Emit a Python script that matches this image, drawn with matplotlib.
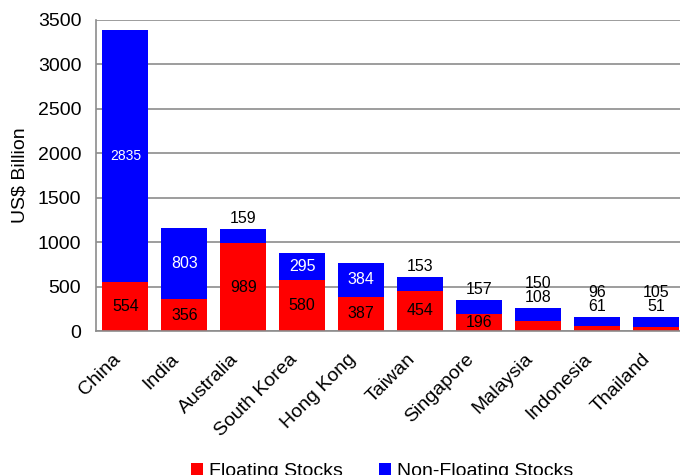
import matplotlib
matplotlib.use("Agg")
import matplotlib.pyplot as plt
import numpy as np

plt.rcParams['font.family'] = ['Liberation Sans', 'DejaVu Sans']

countries = ['China', 'India', 'Australia', 'South Korea', 'Hong Kong',
             'Taiwan', 'Singapore', 'Malaysia', 'Indonesia', 'Thailand']
floating = [554, 356, 989, 580, 387, 454, 196, 108, 61, 51]
non_floating = [2835, 803, 159, 295, 384, 153, 157, 150, 96, 105]

# where each label goes: 'in' = inside its segment, 'top' = stacked above the bar
float_pos = ['in', 'in', 'in', 'in', 'in', 'in', 'in', 'top', 'top', 'top']
nonfloat_pos = ['in', 'in', 'top', 'in', 'in', 'top', 'top', 'top', 'top', 'top']

RED = '#ff0000'
BLUE = '#0000ff'
GRID = '#8c8c8c'

fig = plt.figure(figsize=(6.8, 4.75), dpi=100)
ax = fig.add_axes([0.141, 0.303, 0.867, 0.655])

x = np.arange(len(countries))
width = 0.78
ax.bar(x, floating, width, color=RED, label='Floating Stocks', zorder=2)
ax.bar(x, non_floating, width, bottom=floating, color=BLUE,
       label='Non-Floating Stocks', zorder=2)

lab_fs = 11.5
for i in x:
    f, n = floating[i], non_floating[i]
    total = f + n
    stack = []
    if float_pos[i] == 'in':
        ax.text(i, f / 2, str(f), ha='center', va='center', fontsize=lab_fs,
                color='black', zorder=3)
    else:
        stack.append(str(f))
    if nonfloat_pos[i] == 'in':
        ax.text(i, f + n / 2, str(n), ha='center', va='center',
                fontsize=10 if i == 0 else lab_fs, color='white', zorder=3)
    else:
        stack.append(str(n))
    if stack:
        ax.annotate('\n'.join(reversed(stack)), (i, total), xytext=(0, 2),
                    textcoords='offset points', ha='center', va='bottom',
                    fontsize=lab_fs, linespacing=0.95, zorder=3)

ax.set_xlim(-0.5, len(countries) - 0.5)
ax.set_ylim(0, 3500)
ax.set_yticks(np.arange(0, 3501, 500))
ax.set_xticks(x)
ax.set_xticklabels([])
# slanted category names, sitting down-left of each bar centre
for i, name in enumerate(countries):
    ax.annotate(name, (i, 0), xytext=(-10, -14), textcoords='offset points',
                rotation=45, ha='right', va='top', rotation_mode='anchor',
                fontsize=14, annotation_clip=False)
ax.tick_params(axis='y', labelsize=14, length=0, pad=10.5)
ax.tick_params(axis='x', length=0)
ax.set_ylabel('US$ Billion', fontsize=14, labelpad=7)

ax.yaxis.grid(True, color=GRID, linewidth=1.2, zorder=0)
ax.set_axisbelow(True)
for side in ['top', 'right']:
    ax.spines[side].set_visible(False)
for side in ['left', 'bottom']:
    ax.spines[side].set_color(GRID)
    ax.spines[side].set_linewidth(1.2)

fig.legend(loc='center', bbox_to_anchor=(0.562, 0.008), ncol=2, frameon=False,
           fontsize=14, handlelength=0.6, handleheight=0.6,
           handletextpad=0.3, columnspacing=1.9)

fig.savefig('out.png', dpi=100)
